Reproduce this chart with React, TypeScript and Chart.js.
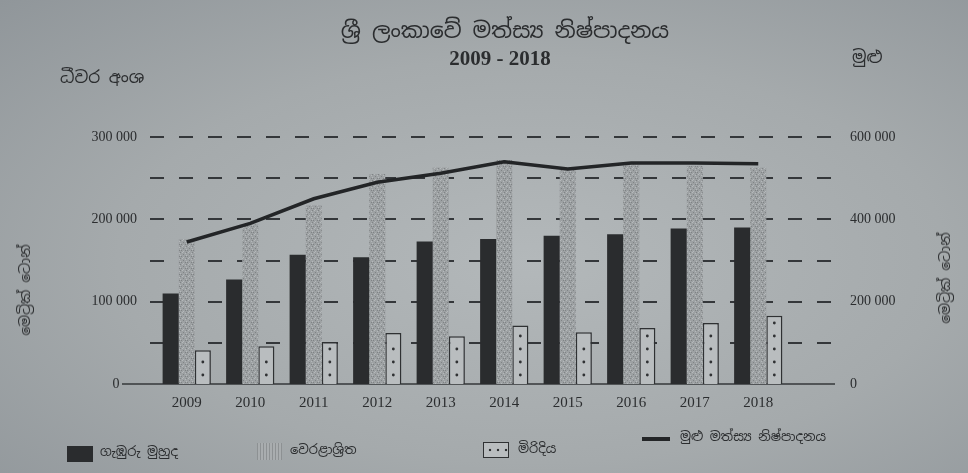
import React, { useEffect, useRef } from "react";
import { Chart, registerables } from "chart.js";

Chart.register(...registerables);

// ---- data ----
const years = ["2009", "2010", "2011", "2012", "2013", "2014", "2015", "2016", "2017", "2018"];
const deepSea = [110000, 127000, 157000, 154000, 173000, 176000, 180000, 182000, 189000, 190000];
const coastal = [176000, 194000, 217000, 255000, 263000, 272000, 260000, 268000, 265000, 263000];
const inland = [41000, 46000, 51000, 62000, 58000, 71000, 63000, 68000, 74000, 83000];
const total = [345000, 390000, 450000, 490000, 512000, 540000, 522000, 537000, 537000, 535000];

const leftTickLabels = [0, 100000, 200000, 300000];
const rightTickLabels = [0, 200000, 400000, 600000];

const titleText = "ශ්‍රී ලංකාවේ මත්ස්‍ය නිෂ්පාදනය";
const subTitleText = "2009 - 2018";
const leftAxisTop = "ධීවර අංශ";
const rightAxisTop = "මුළු";
const unitText = "මෙට්‍රික් ටොන්";
const seriesNames = ["ගැඹුරු මුහුද", "වෙරළාශ්‍රිත", "මිරිදිය", "මුළු මත්ස්‍ය නිෂ්පාදනය"];

const fmt = (v: number) => String(v).replace(/\B(?=(\d{3})+(?!\d))/g, " ");

const SIN = '"Noto Sans Sinhala", "Noto Serif Sinhala", "Iskoola Pota", "Noto Sans", sans-serif';
const SERIF = '"Liberation Serif", "DejaVu Serif", serif';
const INK = "#2b2d2f";

function makeStipple(): CanvasPattern | string {
  const c = document.createElement("canvas");
  c.width = 6;
  c.height = 6;
  const g = c.getContext("2d");
  if (!g) return "#9a9ea0";
  g.fillStyle = "#9da1a3";
  g.fillRect(0, 0, 6, 6);
  const dark = [[0, 0], [3, 2], [5, 4], [1, 4]];
  const light = [[2, 0], [5, 1], [0, 3], [3, 5]];
  g.fillStyle = "#7f8385";
  dark.forEach(([x, y]) => g.fillRect(x, y, 1, 1));
  g.fillStyle = "#b5b9bb";
  light.forEach(([x, y]) => g.fillRect(x, y, 1, 1));
  const p = g.createPattern(c, "repeat");
  return p || "#9a9ea0";
}

const gridPlugin = {
  id: "dashedGrid",
  beforeDatasetsDraw(chart: any) {
    const { ctx, chartArea, scales } = chart;
    const y = scales.y;
    ctx.save();
    ctx.strokeStyle = "#34373a";
    ctx.lineWidth = 2;
    ctx.setLineDash([14, 15]);
    y.ticks.forEach((t: any) => {
      if (t.value === 0) return;
      const py = Math.round(y.getPixelForValue(t.value));
      ctx.beginPath();
      ctx.moveTo(chartArea.left - 5, py);
      ctx.lineTo(chartArea.right + 45, py);
      ctx.stroke();
    });
    ctx.setLineDash([]);
    ctx.lineWidth = 1.5;
    const by = Math.round(y.getPixelForValue(0));
    ctx.beginPath();
    ctx.moveTo(chartArea.left - 33, by);
    ctx.lineTo(chartArea.right + 45, by);
    ctx.stroke();
    ctx.restore();
  },
  afterDatasetsDraw(chart: any) {
    const idx = chart.data.datasets.findIndex((d: any) => d.label === seriesNames[2]);
    if (idx < 0) return;
    const meta = chart.getDatasetMeta(idx);
    const { ctx } = chart;
    ctx.save();
    ctx.fillStyle = "#2f3133";
    meta.data.forEach((bar: any) => {
      const { x, y, base } = bar.getProps(["x", "y", "base"], true);
      for (let py = base - 9; py > y + 5; py -= 13) {
        ctx.beginPath();
        ctx.arc(x, py, 1.4, 0, Math.PI * 2);
        ctx.fill();
      }
    });
    ctx.restore();
  },
};

export default function App() {
  const ref = useRef<HTMLCanvasElement | null>(null);

  useEffect(() => {
    document.body.style.margin = "0";
    const canvas = ref.current;
    if (!canvas) return;
    const stipple = makeStipple();
    const chart = new Chart(canvas, {
      type: "bar",
      data: {
        labels: years,
        datasets: [
          {
            type: "line",
            label: seriesNames[3],
            data: total,
            yAxisID: "y2",
            borderColor: "#232527",
            borderWidth: 3.5,
            pointRadius: 0,
            tension: 0,
            order: 0,
          } as any,
          {
            label: seriesNames[0],
            data: deepSea,
            yAxisID: "y",
            backgroundColor: "#2a2c2e",
            borderWidth: 0,
            order: 1,
          },
          {
            label: seriesNames[1],
            data: coastal,
            yAxisID: "y",
            backgroundColor: stipple as any,
            borderWidth: 0,
            order: 1,
          },
          {
            label: seriesNames[2],
            data: inland,
            yAxisID: "y",
            backgroundColor: "#b9bdbf",
            borderColor: "#2f3133",
            borderWidth: 1.5,
            order: 1,
          },
        ],
      },
      options: {
        responsive: false,
        animation: false,
        devicePixelRatio: 1,
        layout: { padding: { top: 137, left: 0, right: 0, bottom: 0 } },
        plugins: { legend: { display: false }, tooltip: { enabled: false }, title: { display: false } },
        scales: {
          x: {
            grid: { display: false, drawTicks: false },
            border: { display: false },
            ticks: { color: INK, font: { family: SERIF, size: 15 }, padding: 10 },
            afterFit: (s: any) => {
              s.height = 89;
            },
          },
          y: {
            position: "left",
            min: 0,
            max: 300000,
            grid: { display: false, drawTicks: false },
            border: { display: false },
            ticks: {
              stepSize: 50000,
              padding: 18,
              color: INK,
              font: { family: SERIF, size: 14 },
              callback: (v: any) => {
                const n = Number(v);
                if (!leftTickLabels.includes(n)) return "";
                return n === 0 ? "0     " : fmt(n);
              },
            },
            afterFit: (s: any) => {
              s.width = 155;
            },
          },
          y2: {
            position: "right",
            min: 0,
            max: 600000,
            grid: { display: false, drawTicks: false },
            border: { display: false },
            ticks: {
              stepSize: 100000,
              padding: 60,
              color: INK,
              font: { family: SERIF, size: 14 },
              callback: (v: any) => (rightTickLabels.includes(Number(v)) ? fmt(Number(v)) : ""),
            },
            afterFit: (s: any) => {
              s.width = 178;
            },
          },
        },
        datasets: { bar: { categoryPercentage: 0.76, barPercentage: 1 } },
      },
      plugins: [gridPlugin],
    });
    return () => chart.destroy();
  }, []);

  const txt: React.CSSProperties = { position: "absolute", fontFamily: SIN, color: INK, whiteSpace: "nowrap" };

  return (
    <div
      style={{
        position: "relative",
        width: 968,
        height: 473,
        overflow: "hidden",
        background: "radial-gradient(ellipse at 55% 55%, #b3b8ba 0%, #a5aaac 55%, #90969a 100%)",
      }}
    >
      <canvas ref={ref} width={968} height={473} style={{ position: "absolute", left: 0, top: 0 }} />
      <div style={{ ...txt, left: 0, width: 1010, top: 16, textAlign: "center", fontSize: 22 }}>{titleText}</div>
      <div
        style={{
          ...txt,
          left: 0,
          width: 1000,
          top: 46,
          textAlign: "center",
          fontSize: 21,
          fontWeight: "bold",
          fontFamily: SERIF,
        }}
      >
        {subTitleText}
      </div>
      <div style={{ ...txt, left: 60, top: 66, fontSize: 17 }}>{leftAxisTop}</div>
      <div style={{ ...txt, left: 852, top: 46, fontSize: 17 }}>{rightAxisTop}</div>
      <div style={{ ...txt, left: 25, top: 290, fontSize: 14, transform: "translate(-50%,-50%) rotate(-90deg)" }}>
        {unitText}
      </div>
      <div style={{ ...txt, left: 945, top: 278, fontSize: 14, transform: "translate(-50%,-50%) rotate(-90deg)" }}>
        {unitText}
      </div>

      {/* legend */}
      <div style={{ position: "absolute", left: 67, top: 446, width: 26, height: 16, background: "#2a2c2e" }} />
      <div style={{ ...txt, left: 100, top: 443, fontSize: 13 }}>{seriesNames[0]}</div>
      <div
        style={{
          position: "absolute",
          left: 257,
          top: 443,
          width: 25,
          height: 17,
          background: "repeating-linear-gradient(90deg, #8d9193 0px, #8d9193 1px, #a9adaf 1px, #a9adaf 3px)",
        }}
      />
      <div style={{ ...txt, left: 290, top: 441, fontSize: 13 }}>{seriesNames[1]}</div>
      <div
        style={{
          position: "absolute",
          left: 483,
          top: 442,
          width: 24,
          height: 14,
          border: "1.5px solid #2f3133",
          background:
            "radial-gradient(circle, #2f3133 1.3px, transparent 1.6px) 2px 0 / 8px 14px repeat-x, #b9bdbf",
        }}
      />
      <div style={{ ...txt, left: 518, top: 440, fontSize: 13 }}>{seriesNames[2]}</div>
      <div style={{ position: "absolute", left: 642, top: 437, width: 28, height: 4, background: "#232527" }} />
      <div style={{ ...txt, left: 680, top: 428, fontSize: 13 }}>{seriesNames[3]}</div>
    </div>
  );
}
